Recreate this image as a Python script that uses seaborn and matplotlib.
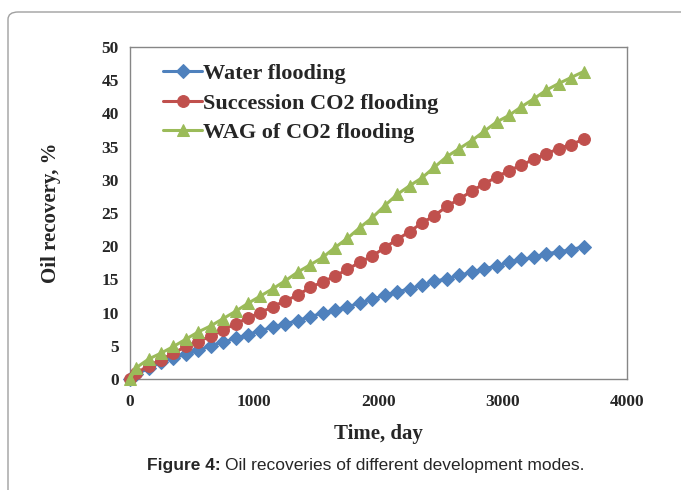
import numpy as np
import pandas as pd
import matplotlib
matplotlib.use("Agg")
import matplotlib.pyplot as plt
from matplotlib.patches import FancyBboxPatch
import seaborn as sns

# ── data ───────────────────────────────────────────────────────────────────────
days = [0, 50] + list(range(150, 3651, 100))

water = [0, 0.7, 1.6, 2.5, 3.2, 3.7, 4.3, 5.0, 5.6, 6.1, 6.7, 7.3, 7.8, 8.3,
         8.8, 9.4, 9.9, 10.4, 10.9, 11.4, 12.0, 12.6, 13.1, 13.6, 14.1, 14.7,
         15.1, 15.6, 16.1, 16.6, 17.0, 17.6, 18.0, 18.3, 18.9, 19.1, 19.5, 19.9]

succession = [0, 0.85, 2.0, 2.9, 3.9, 4.9, 5.6, 6.5, 7.4, 8.3, 9.2, 10.0, 10.9,
              11.8, 12.6, 13.8, 14.6, 15.5, 16.5, 17.6, 18.5, 19.8, 21.0, 22.2,
              23.5, 24.6, 26.0, 27.1, 28.3, 29.4, 30.4, 31.4, 32.2, 33.1, 33.9,
              34.7, 35.3, 36.1]

wag = [0, 1.7, 3.0, 3.9, 4.9, 6.0, 7.1, 8.0, 9.1, 10.2, 11.4, 12.5, 13.6, 14.8,
       16.1, 17.2, 18.3, 19.8, 21.2, 22.8, 24.3, 26.1, 27.8, 29.1, 30.3, 31.9,
       33.5, 34.7, 35.9, 37.3, 38.7, 39.7, 41.0, 42.2, 43.5, 44.5, 45.4, 46.3]

series = [
    ("Water flooding", water, "D", "#4F81BD", 7),
    ("Succession CO2 flooding", succession, "o", "#C0504D", 8.5),
    ("WAG of CO2 flooding", wag, "^", "#9BBB59", 9),
]

xticks = [0, 1000, 2000, 3000, 4000]
yticks = list(range(0, 51, 5))

# ── style ─────────────────────────────────────────────────────────────────────
sns.set_style("white")
plt.rcParams["font.family"] = ["Liberation Serif", "DejaVu Serif"]
plt.rcParams["font.weight"] = "bold"

fig = plt.figure(figsize=(6.81, 4.90), dpi=100)
ax = fig.add_axes([130 / 681, 1 - 379 / 490, 497 / 681, 332 / 490])

for name, vals, mk, col, ms in series:
    df = pd.DataFrame({"day": days, "rec": vals})
    sns.lineplot(data=df, x="day", y="rec", ax=ax, color=col, marker=mk,
                 markersize=ms, markeredgecolor=col, linewidth=2.2, label=name,
                 clip_on=False, zorder=3)

ax.set_xlim(0, 4000)
ax.set_ylim(0, 50)
ax.set_xticks(xticks)
ax.set_yticks(yticks)
ax.set_xlabel("Time, day", fontsize=15, fontweight="bold", labelpad=10)
ax.set_ylabel("Oil recovery, %", fontsize=15, fontweight="bold", labelpad=29)
ax.tick_params(direction="in", length=4, color="#868686", labelsize=12.5, pad=8)
ax.tick_params(axis="x", pad=11)
for lab in ax.get_xticklabels() + ax.get_yticklabels():
    lab.set_fontweight("bold")
for sp in ax.spines.values():
    sp.set_color("#868686")
    sp.set_linewidth(1.0)
    sp.set_visible(True)

ax.legend(loc="upper left", bbox_to_anchor=(0.04, 0.99), frameon=False,
          prop={"size": 16, "weight": "bold"}, handlelength=1.75,
          handletextpad=0.05, labelspacing=0.4, borderaxespad=0.2)

# ── outer page border + caption ───────────────────────────────────────────────
border = FancyBboxPatch((8 / 681, -0.2), 1.2, 1 - 12 / 490 + 0.2,
                        boxstyle="round,pad=0,rounding_size=0.015",
                        transform=fig.transFigure, fill=False,
                        edgecolor="#a0a0a0", linewidth=1.0, clip_on=False)
fig.patches.append(border)

fig.canvas.draw()
cap_y = 1 - 465 / 490
t1 = fig.text(147 / 681, cap_y, "Figure 4:", fontsize=12.5, fontweight="bold",
              family=["Liberation Sans", "DejaVu Sans"], va="center")
bb = t1.get_window_extent(renderer=fig.canvas.get_renderer())
fig.text(bb.x1 / fig.bbox.width + 4 / 681, cap_y,
         "Oil recoveries of different development modes.", fontsize=12.5,
         fontweight="normal", family=["Liberation Sans", "DejaVu Sans"],
         va="center")

fig.savefig("out.png", dpi=100)
